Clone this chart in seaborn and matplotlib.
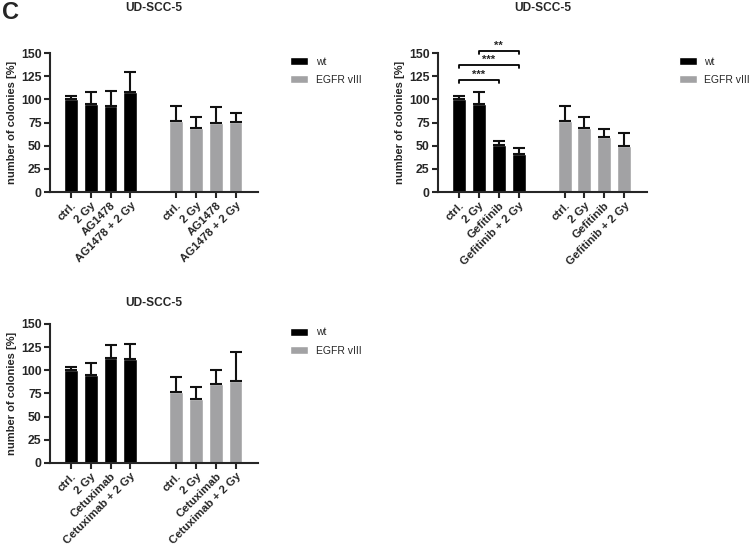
import matplotlib
matplotlib.use("Agg")
import matplotlib.pyplot as plt
import numpy as np
import pandas as pd
import seaborn as sns

# values (mean, upper error bar length)
GENOTYPES = ["wt", "EGFR vIII"]
COLORS = {"wt": "#000000", "EGFR vIII": "#a2a2a4"}

AG_LABELS = ["ctrl.", "2 Gy", "AG1478", "AG1478 + 2 Gy"]
AG_WT = [100, 95, 93, 108]
AG_WT_ERR = [4, 12.5, 15.5, 22]
AG_VIII = [76.5, 69, 74.5, 76]
AG_VIII_ERR = [16, 12.5, 17, 9.5]

GEF_LABELS = ["ctrl.", "2 Gy", "Gefitinib", "Gefitinib + 2 Gy"]
GEF_WT = [100, 95, 50.5, 41]
GEF_WT_ERR = [4, 12.5, 4.5, 7]
GEF_VIII = [76.5, 69, 59.5, 49.5]
GEF_VIII_ERR = [16, 12.5, 8, 14]
# (first bar, last bar, stars, bracket height)
GEF_SIG = [(0, 2, "***", 121), (0, 3, "***", 137), (1, 3, "**", 152)]

CET_LABELS = ["ctrl.", "2 Gy", "Cetuximab", "Cetuximab + 2 Gy"]
CET_WT = [100, 95, 113.5, 112]
CET_WT_ERR = [4, 12.5, 14, 16]
CET_VIII = [76.5, 69, 85.5, 88.5]
CET_VIII_ERR = [16, 12.5, 15, 31.5]

TITLE = "UD-SCC-5"
YLABEL = "number of colonies [%]"
GROUP_OFFSET = 5.32

sns.set_style("ticks")
plt.rcParams["font.family"] = ["Liberation Sans", "DejaVu Sans"]


def build_frame(labels, wt, wt_err, viii, viii_err):
    rows = []
    for gi, (vals, errs) in enumerate([(wt, wt_err), (viii, viii_err)]):
        for i, lab in enumerate(labels):
            rows.append({
                "pos": i + gi * GROUP_OFFSET,
                "value": vals[i],
                "err": errs[i],
                "genotype": GENOTYPES[gi],
                "label": lab,
            })
    return pd.DataFrame(rows)


def draw_panel(ax, df, title_pad, sig=None):
    sns.barplot(
        data=df, x="pos", y="value", hue="genotype", hue_order=GENOTYPES,
        palette=COLORS, native_scale=True, dodge=False, width=0.7,
        errorbar=None, saturation=1, ax=ax,
    )
    ax.errorbar(
        df["pos"], df["value"], yerr=[np.zeros(len(df)), df["err"]],
        fmt="none", ecolor="#111111", elinewidth=1.5, capsize=4, capthick=1.5,
    )

    ax.set_xlim(-1.06, 9.46)
    ax.set_ylim(0, 150)
    ax.set_yticks(np.arange(0, 151, 25))
    ax.set_xticks(df["pos"])
    ax.set_xticklabels(df["label"], rotation=45, ha="right",
                       rotation_mode="anchor", fontsize=8.2, fontweight="bold")
    for t in ax.get_yticklabels():
        t.set_fontweight("bold")
        t.set_fontsize(8.8)
    ax.tick_params(axis="both", width=1.5, length=4, pad=2)
    ax.set_xlabel("")
    ax.set_ylabel(YLABEL, fontsize=8, fontweight="bold", labelpad=3)
    ax.set_title(TITLE, fontsize=8.6, fontweight="bold", pad=title_pad)
    sns.despine(ax=ax)
    for s in ["left", "bottom"]:
        ax.spines[s].set_linewidth(1.5)

    sns.move_legend(
        ax, loc="upper left", bbox_to_anchor=(1.154, 0.975), frameon=False,
        title=None, fontsize=7.5, handlelength=1.75, handleheight=0.85,
        handletextpad=0.7, labelspacing=0.8, borderpad=0, borderaxespad=0,
    )

    if sig:
        pos = df["pos"].values
        for a, b, stars, h in sig:
            ax.plot([pos[a], pos[a], pos[b], pos[b]], [h - 3, h, h, h - 3],
                    color="black", lw=1.3, clip_on=False)
            ax.text((pos[a] + pos[b]) / 2, h + 0.5, stars, ha="center",
                    va="bottom", fontsize=8, fontweight="bold")


fig = plt.figure(figsize=(7.51, 5.44), dpi=100)
ax1 = fig.add_axes([0.0666, 0.647, 0.277, 0.2555])
ax2 = fig.add_axes([0.5832, 0.647, 0.278, 0.2555])
ax3 = fig.add_axes([0.0666, 0.149, 0.277, 0.2555])

draw_panel(ax1, build_frame(AG_LABELS, AG_WT, AG_WT_ERR, AG_VIII, AG_VIII_ERR), 30)
draw_panel(ax2, build_frame(GEF_LABELS, GEF_WT, GEF_WT_ERR, GEF_VIII, GEF_VIII_ERR), 30, GEF_SIG)
draw_panel(ax3, build_frame(CET_LABELS, CET_WT, CET_WT_ERR, CET_VIII, CET_VIII_ERR), 13)

fig.text(0.003, 0.998, "C", fontsize=17, fontweight="bold", va="top", ha="left")

fig.savefig("out.png", dpi=100)
